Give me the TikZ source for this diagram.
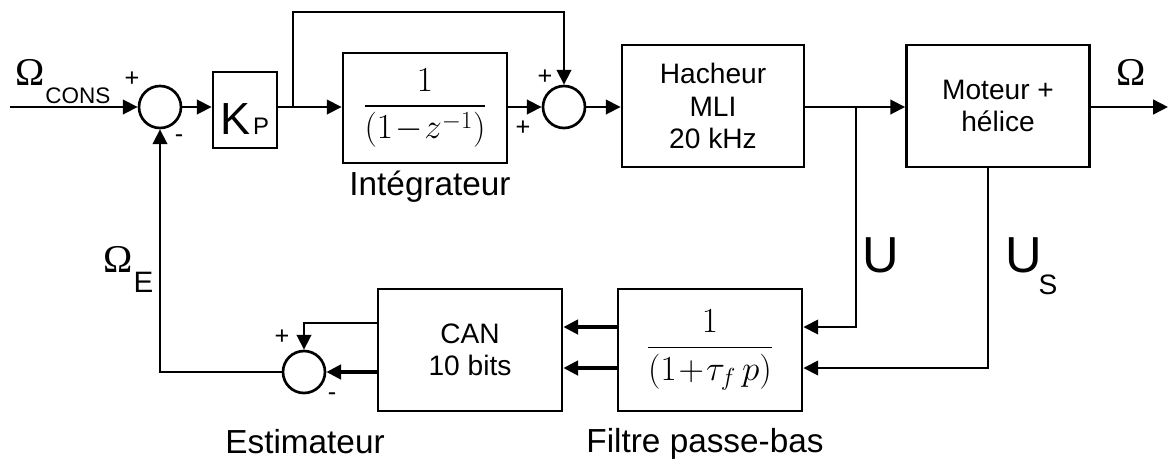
\RequirePackage{fix-cm}
\documentclass[tikz,border=0pt]{standalone}
\usepackage{amsmath}
\usepackage{fontspec}
\setmainfont{Liberation Sans}
\newfontfamily\grfont{Liberation Serif}
\usetikzlibrary{arrows.meta, positioning, calc}

\newcommand{\boxfont}{\fontsize{20}{23}\selectfont}
\newcommand{\capfont}{\fontsize{23.7}{26}\selectfont}
\newcommand{\sgnfont}{\fontsize{18}{18}\selectfont}

\tikzset{
    sig/.style={line width=1.9pt, -{Triangle[length=0.37cm,width=0.36cm]}},
    wire/.style={line width=1.9pt},
    fat/.style={line width=2.5pt},
    block/.style={draw, line width=1.9pt, inner sep=2pt, align=center,
        font=\boxfont, minimum width=4.6cm, minimum height=3.05cm},
    sumnode/.style={draw, circle, line width=1.9pt, inner sep=0pt, minimum size=1.05cm},
    sgn/.style={inner sep=0pt, font=\sgnfont},
    txt/.style={inner sep=0pt, anchor=base}
}

\begin{document}
\begin{tikzpicture}[x=0.025cm, y=-0.025cm]
    \useasboundingbox (0,0) rectangle (1168,463);

    % chaine directe
    \coordinate (in) at (10,107);
    \node[sumnode] (s1) at (160,107) {};
    \node[block, minimum width=1.6cm, minimum height=1.9cm, font=\fontsize{32}{34}\selectfont,
        text height=1.25cm, text depth=0.05cm] (kp) at (245,110)
        {K\hspace{0.06cm}{\fontsize{17}{17}\selectfont P}};
    \coordinate (br) at (293,107);
    \node[block, minimum width=4.1cm, minimum height=2.75cm] (integ) at (425,108)
        {\fontsize{25}{28}\selectfont $\dfrac{1}{(1\!-\!z^{-1})}$};
    \node[sumnode] (s2) at (564,107) {};
    \coordinate (tp) at (564,12);
    \node[block, minimum width=4.55cm] (hach) at (713,106) {Hacheur\\MLI\\20 kHz};
    \coordinate (bu) at (856,107);
    \node[block, minimum width=4.575cm] (mot) at (998,106) {Moteur +\\hélice};
    \coordinate (out) at (1168,107);
    \coordinate (us) at (mot.south -| 988,0);

    % chaine de retour
    \node[block] (filt) at (710,350)
        {\fontsize{25}{28}\selectfont $\dfrac{1}{(1\!+\!\tau_{f}\,p)}$};
    \node[block] (can) at (470,350) {CAN\\10 bits};
    \node[sumnode] (s3) at (304,372) {};

    % liaisons
    \draw[sig] (in) -- (s1);
    \draw[sig] (s1) -- (s1 -| kp.west);
    \draw[wire] (kp.east |- br) -- (br);
    \draw[sig] (br) -- (br -| integ.west);
    \draw[sig] (br) |- (tp) -- (s2);
    \draw[sig] (integ.east |- s2) -- (s2);
    \draw[sig] (s2) -- (s2 -| hach.west);
    \draw[sig] (hach.east |- bu) -- (bu -| mot.west);
    \draw[sig] (mot.east |- out) -- (out);
    \draw[sig] (bu) |- ($(filt.east)+(0,-23)$);
    \draw[sig] (us) |- ($(filt.east)+(0,18)$);
    \draw[sig, fat] ($(filt.west)+(0,-23)$) -- ($(can.east)+(0,-23)$);
    \draw[sig, fat] ($(filt.west)+(0,18)$) -- ($(can.east)+(0,18)$);
    \draw[sig] ($(can.west)+(0,-27)$) -| (s3);
    \draw[sig, fat] (can.west |- s3) -- (s3);
    \draw[sig] (s3) -| (s1);

    % signes
    \node[sgn] (p1) at (132,79) {+};
    \node[sgn] (m1) at (179,139) {-};
    \node[sgn] (p2) at (545,77) {+};
    \node[sgn] (p3) at (523,128) {+};
    \node[sgn] (p4) at (282,337) {+};
    \node[sgn] (m3) at (332,397) {-};

    % grandeurs
    \node[txt, font=\fontsize{28}{30}\grfont] (wc) at (30,85) {Ω};
    \node[txt, font=\fontsize{16}{16}\selectfont] (wcs) at (78,103) {CONS};
    \node[txt, font=\fontsize{28}{30}\grfont] (wo) at (1131,85) {Ω};
    \node[txt, font=\fontsize{28}{30}\grfont] (we) at (118,272) {Ω};
    \node[txt, font=\fontsize{21}{21}\selectfont] (wes) at (143.5,292) {E};
    \node[txt, font=\fontsize{36}{36}\selectfont] (u) at (881,272) {U};
    \node[txt, font=\fontsize{36}{36}\selectfont] (uu) at (1024,272) {U};
    \node[txt, font=\fontsize{20}{20}\selectfont] (uus) at (1048,294) {S};

    % noms des blocs
    \node[txt, font=\capfont] (lint) at (430,195) {Intégrateur};
    \node[txt, font=\capfont] (lest) at (305,453) {Estimateur};
    \node[txt, font=\capfont] (lfil) at (705,452) {Filtre passe-bas};
\end{tikzpicture}
\end{document}
